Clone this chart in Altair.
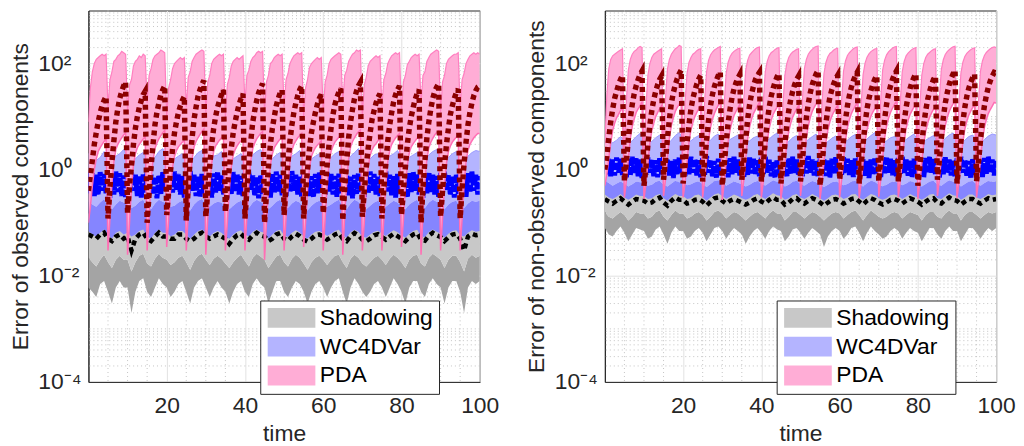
import altair as alt
import numpy as np
import pandas as pd

# time grids (1-unit and half-unit sampling)
T1 = np.arange(0, 101)
T2 = np.arange(0, 201) * 0.5

# ---------------- LEFT PANEL: observed components ----------------
# half-unit series (t = 0, 0.5, ..., 100), one row per assimilation cycle
PDA_HI_OBS = [
    8, 35, 70, 100, 120, 130, 140, 150, 140, 150,
    15, 50, 70, 110, 120, 140, 150, 170, 160, 150,
    12, 40, 50, 90, 110, 120, 140, 130, 150, 140,
    18, 60, 80, 120, 140, 150, 160, 180, 170, 160,
    10, 35, 50, 80, 100, 110, 120, 130, 120, 130,
    15, 55, 70, 110, 130, 150, 160, 170, 180, 170,
    12, 45, 60, 100, 120, 130, 140, 150, 140, 150,
    10, 40, 55, 90, 110, 120, 130, 120, 130, 140,
    18, 60, 75, 110, 130, 140, 160, 170, 160, 170,
    12, 45, 60, 100, 110, 130, 140, 150, 140, 150,
    15, 50, 65, 100, 120, 140, 150, 160, 150, 160,
    10, 35, 50, 85, 100, 110, 120, 130, 120, 130,
    12, 45, 60, 100, 120, 130, 140, 150, 160, 150,
    18, 60, 75, 110, 130, 150, 160, 180, 170, 180,
    10, 40, 55, 90, 110, 120, 130, 140, 130, 140,
    15, 50, 65, 100, 120, 140, 150, 160, 150, 160,
    12, 45, 60, 95, 110, 130, 140, 150, 140, 150,
    18, 60, 70, 110, 130, 150, 160, 170, 180, 170,
    12, 45, 60, 100, 120, 130, 140, 150, 150, 160,
    15, 50, 65, 100, 120, 140, 150, 160, 150, 160,
    150]
PDA_MED_OBS = [
    0.4, 0.8, 1.5, 3, 5, 8, 12, 16, 20, 24,
    0.12, 0.45, 1.4, 3.5, 8, 14, 22, 30, 38, 45,
    0.15, 0.5, 1.2, 3, 6, 10, 15, 20, 26, 30,
    0.1, 0.35, 1.1, 3, 7, 12, 18, 26, 32, 38,
    0.14, 0.4, 1.0, 2.5, 5, 8, 12, 16, 20, 24,
    0.11, 0.45, 1.5, 4, 9, 15, 24, 32, 40, 48,
    0.13, 0.4, 1.2, 3, 6, 10, 15, 20, 26, 32,
    0.16, 0.45, 1.1, 2.5, 5, 8, 12, 17, 22, 27,
    0.12, 0.4, 1.3, 3.5, 8, 13, 20, 28, 35, 42,
    0.1, 0.35, 1.1, 3, 6, 10, 16, 22, 28, 32,
    0.14, 0.5, 1.4, 3.5, 7, 12, 18, 25, 32, 38,
    0.12, 0.4, 1.0, 2.5, 5, 8, 12, 17, 22, 26,
    0.15, 0.45, 1.2, 3, 6, 11, 17, 23, 29, 34,
    0.11, 0.45, 1.4, 4, 8, 14, 22, 30, 38, 44,
    0.13, 0.4, 1.1, 2.6, 5, 9, 13, 18, 23, 27,
    0.12, 0.45, 1.3, 3.5, 7, 12, 19, 26, 32, 38,
    0.14, 0.4, 1.1, 3, 6, 10, 15, 21, 27, 32,
    0.1, 0.45, 1.5, 4, 8, 14, 22, 30, 36, 42,
    0.13, 0.4, 1.2, 3, 6, 11, 16, 22, 28, 33,
    0.12, 0.45, 1.3, 3.3, 7, 12, 18, 25, 31, 36,
    38]
PDA_LO_OBS = [
    0.1, 0.2, 0.5, 1.0, 1.6, 2.2, 2.6, 3, 3.4, 3.8,
    0.03, 0.12, 0.55, 1.4, 2.4, 3, 3.5, 4, 4.5, 5,
    0.025, 0.1, 0.45, 1.2, 2, 2.6, 3, 3.4, 3.8, 4.2,
    0.03, 0.13, 0.6, 1.5, 2.5, 3.2, 3.8, 4.4, 5, 5.5,
    0.035, 0.11, 0.45, 1.1, 1.8, 2.3, 2.7, 3, 3.3, 3.6,
    0.03, 0.14, 0.6, 1.6, 2.7, 3.4, 4, 4.6, 5.2, 5.8,
    0.025, 0.12, 0.5, 1.3, 2.2, 2.8, 3.2, 3.6, 4, 4.4,
    0.03, 0.1, 0.42, 1.1, 1.9, 2.4, 2.8, 3.2, 3.5, 3.8,
    0.03, 0.13, 0.58, 1.5, 2.5, 3.2, 3.8, 4.3, 4.8, 5.2,
    0.02, 0.1, 0.45, 1.2, 2, 2.6, 3, 3.4, 3.8, 4.2,
    0.03, 0.12, 0.52, 1.4, 2.3, 3, 3.5, 4, 4.4, 4.8,
    0.035, 0.1, 0.42, 1.1, 1.8, 2.2, 2.6, 2.9, 3.2, 3.5,
    0.03, 0.12, 0.5, 1.3, 2.2, 2.8, 3.3, 3.7, 4.1, 4.5,
    0.025, 0.14, 0.6, 1.6, 2.7, 3.4, 4, 4.6, 5.2, 5.6,
    0.03, 0.1, 0.44, 1.1, 1.9, 2.4, 2.8, 3.1, 3.5, 3.8,
    0.03, 0.12, 0.52, 1.4, 2.3, 3, 3.5, 4, 4.4, 4.8,
    0.035, 0.11, 0.48, 1.2, 2.1, 2.7, 3.1, 3.5, 3.9, 4.3,
    0.025, 0.14, 0.6, 1.6, 2.6, 3.3, 3.9, 4.5, 5, 5.4,
    0.03, 0.12, 0.5, 1.3, 2.2, 2.8, 3.3, 3.7, 4.1, 4.5,
    0.03, 0.12, 0.52, 1.4, 2.3, 3, 3.5, 4, 4.4, 4.8,
    4.8]
WC_MED_OBS = [
    0.9, 0.36, 0.86, 0.32, 0.8, 0.34, 0.9, 0.4, 0.83, 0.36,
    0.75, 0.3, 0.8, 0.34, 0.92, 0.38, 0.86, 0.32, 0.78, 0.29,
    0.83, 0.35, 0.9, 0.4, 0.8, 0.32, 0.76, 0.3, 0.85, 0.37,
    0.92, 0.38, 0.8, 0.34, 0.74, 0.29, 0.8, 0.35, 0.9, 0.4,
    0.78, 0.32, 0.85, 0.37, 0.92, 0.4, 0.83, 0.34, 0.76, 0.3,
    0.86, 0.36, 0.94, 0.4, 0.8, 0.32, 0.74, 0.3, 0.83, 0.35,
    0.8, 0.34, 0.76, 0.3, 0.85, 0.37, 0.92, 0.4, 0.8, 0.34,
    0.74, 0.29, 0.8, 0.35, 0.9, 0.38, 0.83, 0.34, 0.76, 0.32,
    0.87, 0.37, 0.92, 0.4, 0.78, 0.32, 0.71, 0.29, 0.8, 0.35,
    0.83, 0.34, 0.76, 0.3, 0.85, 0.37, 0.92, 0.39, 0.8, 0.33,
    0.78, 0.32, 0.86, 0.38, 0.94, 0.4, 0.8, 0.34, 0.74, 0.3,
    0.85, 0.36, 0.8, 0.32, 0.75, 0.3, 0.83, 0.36, 0.9, 0.38,
    0.8, 0.34, 0.9, 0.39, 0.83, 0.34, 0.76, 0.31, 0.84, 0.36,
    0.92, 0.4, 0.8, 0.33, 0.74, 0.29, 0.8, 0.35, 0.88, 0.38,
    0.76, 0.31, 0.84, 0.36, 0.92, 0.4, 0.83, 0.34, 0.77, 0.32,
    0.86, 0.37, 0.92, 0.39, 0.8, 0.33, 0.75, 0.3, 0.83, 0.35,
    0.8, 0.34, 0.76, 0.3, 0.86, 0.38, 0.92, 0.4, 0.82, 0.34,
    0.75, 0.3, 0.83, 0.36, 0.9, 0.38, 0.8, 0.34, 0.76, 0.31,
    0.87, 0.38, 0.92, 0.4, 0.79, 0.33, 0.74, 0.3, 0.82, 0.35,
    0.83, 0.35, 0.77, 0.31, 0.86, 0.37, 0.92, 0.4, 0.8, 0.34,
    0.76]
# unit series (t = 0, 1, ..., 100)
WC_HI_OBS = [
    2.0, 1.8, 1.5, 1.7, 2.2, 1.6, 1.4, 1.8, 2.0, 2.4,
    1.7, 1.5, 1.6, 1.9, 2.1, 1.5, 1.4, 1.7, 2.2, 2.5,
    1.8, 1.5, 1.6, 1.8, 2.0, 1.6, 1.3, 1.7, 2.1, 2.3,
    1.7, 1.5, 1.8, 1.9, 2.2, 1.5, 1.4, 1.6, 1.8, 2.0,
    1.6, 1.5, 1.9, 2.2, 2.4, 1.7, 1.4, 1.6, 1.9, 2.1,
    1.6, 1.5, 1.8, 2.0, 2.3, 1.5, 1.3, 1.6, 1.8, 2.0,
    1.7, 1.5, 1.7, 2.0, 2.2, 1.6, 1.4, 1.8, 2.1, 2.5,
    1.5, 1.4, 1.6, 1.9, 2.0, 1.7, 1.5, 1.8, 2.0, 2.3,
    1.6, 1.4, 1.7, 1.9, 2.1, 1.5, 1.5, 1.9, 2.2, 2.4,
    1.7, 1.4, 1.7, 2.0, 2.2, 1.6, 1.5, 1.8, 2.1, 2.3,
    2.2]
WC_Q_OBS = [
    0.25, 0.22, 0.2, 0.24, 0.28, 0.2, 0.18, 0.22, 0.26, 0.24,
    0.22, 0.19, 0.21, 0.25, 0.27, 0.19, 0.18, 0.23, 0.27, 0.25,
    0.23, 0.2, 0.21, 0.24, 0.26, 0.2, 0.17, 0.22, 0.26, 0.28,
    0.22, 0.2, 0.23, 0.25, 0.24, 0.19, 0.18, 0.21, 0.24, 0.26,
    0.21, 0.19, 0.24, 0.27, 0.25, 0.22, 0.18, 0.21, 0.25, 0.27,
    0.2, 0.19, 0.23, 0.26, 0.24, 0.19, 0.17, 0.21, 0.24, 0.26,
    0.22, 0.2, 0.22, 0.25, 0.27, 0.2, 0.18, 0.23, 0.27, 0.25,
    0.19, 0.18, 0.21, 0.24, 0.26, 0.22, 0.2, 0.23, 0.26, 0.24,
    0.2, 0.18, 0.22, 0.25, 0.27, 0.19, 0.19, 0.24, 0.27, 0.25,
    0.22, 0.18, 0.22, 0.25, 0.26, 0.2, 0.19, 0.23, 0.26, 0.25,
    0.26]
WC_LO_OBS = [
    0.07, 0.06, 0.055, 0.065, 0.075, 0.06, 0.05, 0.065, 0.07, 0.06,
    0.065, 0.055, 0.06, 0.07, 0.075, 0.055, 0.05, 0.065, 0.075, 0.065,
    0.065, 0.055, 0.06, 0.07, 0.07, 0.06, 0.05, 0.06, 0.07, 0.075,
    0.065, 0.055, 0.065, 0.07, 0.065, 0.055, 0.05, 0.06, 0.068, 0.072,
    0.06, 0.055, 0.068, 0.075, 0.068, 0.065, 0.05, 0.06, 0.07, 0.074,
    0.058, 0.054, 0.065, 0.072, 0.066, 0.055, 0.05, 0.06, 0.068, 0.07,
    0.064, 0.056, 0.062, 0.07, 0.074, 0.058, 0.052, 0.066, 0.074, 0.068,
    0.055, 0.052, 0.06, 0.068, 0.071, 0.063, 0.056, 0.065, 0.072, 0.066,
    0.058, 0.052, 0.062, 0.07, 0.074, 0.055, 0.054, 0.067, 0.075, 0.068,
    0.063, 0.052, 0.062, 0.07, 0.072, 0.058, 0.055, 0.065, 0.072, 0.068,
    0.07]
SH_MED_OBS = [
    0.06, 0.055, 0.05, 0.06, 0.065, 0.05, 0.045, 0.055, 0.06, 0.05,
    0.055, 0.03, 0.05, 0.06, 0.065, 0.05, 0.045, 0.055, 0.065, 0.055,
    0.055, 0.05, 0.05, 0.06, 0.06, 0.05, 0.045, 0.05, 0.06, 0.065,
    0.055, 0.05, 0.055, 0.06, 0.055, 0.05, 0.04, 0.05, 0.058, 0.062,
    0.052, 0.048, 0.058, 0.065, 0.058, 0.055, 0.045, 0.05, 0.06, 0.064,
    0.05, 0.046, 0.055, 0.062, 0.056, 0.048, 0.044, 0.05, 0.058, 0.06,
    0.055, 0.048, 0.053, 0.06, 0.064, 0.05, 0.045, 0.056, 0.064, 0.058,
    0.048, 0.045, 0.05, 0.058, 0.061, 0.054, 0.048, 0.055, 0.062, 0.056,
    0.05, 0.045, 0.053, 0.06, 0.064, 0.048, 0.046, 0.057, 0.065, 0.058,
    0.054, 0.045, 0.053, 0.06, 0.062, 0.05, 0.03, 0.055, 0.062, 0.058,
    0.06]
SH_Q_OBS = [
    0.022, 0.018, 0.015, 0.02, 0.025, 0.018, 0.014, 0.02, 0.024, 0.02,
    0.02, 0.012, 0.018, 0.024, 0.026, 0.017, 0.015, 0.021, 0.026, 0.022,
    0.02, 0.016, 0.018, 0.022, 0.024, 0.018, 0.013, 0.019, 0.024, 0.026,
    0.02, 0.016, 0.021, 0.024, 0.021, 0.017, 0.014, 0.018, 0.022, 0.025,
    0.019, 0.015, 0.022, 0.026, 0.023, 0.02, 0.014, 0.018, 0.023, 0.025,
    0.018, 0.015, 0.021, 0.025, 0.022, 0.017, 0.013, 0.018, 0.022, 0.024,
    0.02, 0.016, 0.02, 0.024, 0.025, 0.018, 0.014, 0.021, 0.025, 0.022,
    0.017, 0.015, 0.018, 0.022, 0.024, 0.02, 0.016, 0.021, 0.025, 0.022,
    0.018, 0.014, 0.02, 0.024, 0.025, 0.017, 0.015, 0.022, 0.026, 0.023,
    0.02, 0.014, 0.02, 0.024, 0.024, 0.018, 0.012, 0.021, 0.025, 0.022,
    0.024]
SH_LO_OBS = [
    0.006, 0.005, 0.004, 0.007, 0.008, 0.005, 0.003, 0.006, 0.008, 0.006,
    0.006, 0.002, 0.005, 0.008, 0.009, 0.005, 0.004, 0.006, 0.009, 0.007,
    0.006, 0.004, 0.005, 0.007, 0.008, 0.005, 0.003, 0.006, 0.008, 0.009,
    0.006, 0.004, 0.006, 0.008, 0.006, 0.005, 0.003, 0.005, 0.007, 0.008,
    0.005, 0.004, 0.007, 0.009, 0.007, 0.006, 0.003, 0.005, 0.008, 0.008,
    0.005, 0.004, 0.006, 0.008, 0.007, 0.005, 0.003, 0.005, 0.007, 0.008,
    0.006, 0.004, 0.006, 0.008, 0.009, 0.005, 0.003, 0.006, 0.009, 0.007,
    0.005, 0.004, 0.005, 0.007, 0.008, 0.006, 0.004, 0.006, 0.009, 0.007,
    0.005, 0.003, 0.006, 0.008, 0.008, 0.005, 0.004, 0.007, 0.009, 0.007,
    0.006, 0.003, 0.006, 0.008, 0.008, 0.005, 0.002, 0.006, 0.008, 0.007,
    0.008]
SH_TOP_OBS = 0.15

# ---------------- RIGHT PANEL: non-observed components ----------------
PDA_HI_NON = [
    3, 25, 80, 120, 140, 150, 160, 170, 180, 190,
    2, 20, 75, 120, 150, 170, 180, 200, 210, 200,
    1.8, 15, 60, 100, 130, 150, 160, 170, 180, 190,
    2, 22, 80, 120, 150, 170, 190, 200, 220, 210,
    2.2, 18, 65, 105, 130, 150, 160, 175, 185, 190,
    2, 20, 70, 115, 145, 165, 180, 190, 200, 210,
    1.8, 17, 65, 105, 135, 155, 170, 180, 190, 195,
    2, 21, 75, 115, 145, 160, 175, 190, 200, 205,
    2.2, 19, 70, 110, 140, 160, 170, 185, 195, 200,
    2, 16, 60, 100, 130, 150, 165, 175, 185, 190,
    1.9, 22, 80, 120, 150, 170, 185, 200, 210, 215,
    2, 18, 65, 105, 135, 155, 165, 180, 190, 195,
    2.1, 20, 72, 112, 142, 160, 175, 190, 200, 205,
    2, 17, 62, 102, 132, 152, 168, 178, 188, 192,
    1.8, 21, 76, 116, 146, 166, 180, 195, 205, 210,
    2, 19, 70, 110, 140, 158, 172, 185, 195, 200,
    2.2, 16, 60, 100, 130, 150, 162, 175, 185, 190,
    2, 22, 78, 118, 148, 168, 182, 196, 206, 212,
    1.9, 18, 66, 106, 136, 156, 170, 182, 192, 198,
    2, 20, 72, 112, 142, 162, 176, 190, 200, 206,
    200]
PDA_MED_NON = [
    1.0, 1.8, 4, 8, 14, 22, 30, 40, 50, 60,
    0.6, 1.4, 3.8, 9, 17, 27, 38, 50, 62, 72,
    0.5, 1.1, 3, 7, 13, 21, 30, 40, 50, 58,
    0.65, 1.5, 4, 9, 18, 28, 40, 52, 64, 75,
    0.55, 1.2, 3.2, 7, 14, 22, 31, 41, 51, 60,
    0.6, 1.4, 3.6, 8.5, 16, 26, 37, 48, 60, 70,
    0.5, 1.2, 3.2, 7.5, 14, 23, 33, 43, 53, 62,
    0.65, 1.4, 3.8, 9, 17, 27, 38, 50, 60, 68,
    0.6, 1.3, 3.4, 8, 15, 24, 34, 45, 56, 65,
    0.55, 1.2, 3, 7, 13, 21, 30, 40, 50, 58,
    0.6, 1.5, 4, 9.5, 18, 28, 40, 52, 64, 74,
    0.5, 1.2, 3.2, 7.5, 14, 23, 32, 42, 52, 60,
    0.65, 1.4, 3.6, 8.5, 16, 25, 36, 47, 58, 68,
    0.55, 1.2, 3.1, 7.2, 14, 22, 31, 41, 51, 59,
    0.6, 1.5, 4, 9, 17, 27, 38, 50, 62, 72,
    0.6, 1.3, 3.5, 8, 15, 24, 34, 45, 55, 64,
    0.5, 1.1, 3, 7, 13, 21, 30, 40, 50, 58,
    0.65, 1.5, 4, 9.5, 18, 28, 40, 52, 64, 75,
    0.55, 1.3, 3.4, 8, 15, 24, 34, 44, 54, 63,
    0.6, 1.4, 3.6, 8.5, 16, 25, 36, 47, 58, 68,
    66]
PDA_LO_NON = [
    0.5, 0.8, 1.6, 3.2, 5.5, 7.5, 9.5, 11, 13, 15,
    0.3, 0.62, 1.6, 3.8, 6.5, 9, 12, 14, 16, 19,
    0.28, 0.55, 1.3, 3.2, 5.4, 7.6, 10, 12, 14, 16,
    0.32, 0.65, 1.7, 4, 6.8, 9.5, 12.5, 15, 17, 20,
    0.3, 0.56, 1.4, 3.3, 5.6, 7.8, 10, 12, 14, 16.5,
    0.3, 0.63, 1.6, 3.7, 6.3, 9, 11.5, 14, 16.5, 19,
    0.27, 0.56, 1.4, 3.3, 5.7, 8, 10.5, 12.5, 14.5, 17,
    0.32, 0.62, 1.6, 3.8, 6.4, 9, 11.5, 13.5, 16, 18.5,
    0.3, 0.6, 1.5, 3.5, 6, 8.5, 11, 13, 15, 18,
    0.28, 0.54, 1.3, 3.1, 5.3, 7.5, 9.8, 11.8, 13.8, 16,
    0.32, 0.66, 1.7, 4, 6.8, 9.6, 12.5, 15, 17.5, 20.5,
    0.28, 0.56, 1.4, 3.3, 5.6, 8, 10.2, 12.2, 14.2, 16.5,
    0.3, 0.62, 1.55, 3.6, 6.2, 8.8, 11.4, 13.6, 15.8, 18.5,
    0.29, 0.56, 1.4, 3.3, 5.6, 7.9, 10.2, 12.2, 14.2, 16.5,
    0.31, 0.64, 1.65, 3.9, 6.6, 9.3, 12, 14.4, 16.8, 19.5,
    0.3, 0.6, 1.5, 3.5, 6, 8.5, 11, 13, 15.2, 17.8,
    0.28, 0.54, 1.3, 3.1, 5.3, 7.5, 9.8, 11.8, 13.8, 16,
    0.32, 0.66, 1.7, 4, 6.8, 9.6, 12.5, 15, 17.5, 20.5,
    0.29, 0.58, 1.45, 3.4, 5.8, 8.2, 10.6, 12.7, 14.8, 17.2,
    0.3, 0.62, 1.55, 3.6, 6.2, 8.8, 11.4, 13.6, 15.8, 18.5,
    18]
WC_MED_NON = [
    1.7, 0.8, 1.6, 0.75, 1.55, 0.78, 1.7, 0.88, 1.6, 0.8,
    1.5, 0.72, 1.6, 0.78, 1.75, 0.84, 1.65, 0.75, 1.55, 0.7,
    1.6, 0.8, 1.7, 0.88, 1.55, 0.75, 1.5, 0.72, 1.65, 0.82,
    1.75, 0.85, 1.55, 0.78, 1.45, 0.7, 1.55, 0.8, 1.7, 0.88,
    1.52, 0.75, 1.65, 0.82, 1.75, 0.88, 1.6, 0.78, 1.5, 0.72,
    1.65, 0.8, 1.8, 0.88, 1.55, 0.75, 1.45, 0.71, 1.6, 0.8,
    1.55, 0.78, 1.5, 0.72, 1.65, 0.82, 1.75, 0.88, 1.56, 0.78,
    1.46, 0.7, 1.56, 0.8, 1.7, 0.85, 1.6, 0.79, 1.5, 0.75,
    1.68, 0.83, 1.75, 0.88, 1.53, 0.75, 1.42, 0.7, 1.57, 0.8,
    1.6, 0.79, 1.5, 0.72, 1.65, 0.83, 1.76, 0.87, 1.56, 0.77,
    1.53, 0.75, 1.66, 0.85, 1.8, 0.88, 1.56, 0.78, 1.45, 0.72,
    1.64, 0.82, 1.56, 0.76, 1.48, 0.71, 1.6, 0.82, 1.72, 0.86,
    1.56, 0.78, 1.72, 0.87, 1.6, 0.8, 1.5, 0.73, 1.62, 0.82,
    1.75, 0.88, 1.57, 0.77, 1.45, 0.7, 1.56, 0.8, 1.7, 0.85,
    1.5, 0.73, 1.62, 0.82, 1.76, 0.88, 1.6, 0.79, 1.51, 0.75,
    1.66, 0.84, 1.75, 0.87, 1.56, 0.77, 1.47, 0.72, 1.6, 0.8,
    1.57, 0.78, 1.49, 0.72, 1.66, 0.85, 1.75, 0.88, 1.58, 0.79,
    1.47, 0.71, 1.6, 0.82, 1.72, 0.86, 1.56, 0.78, 1.49, 0.73,
    1.68, 0.85, 1.75, 0.88, 1.55, 0.77, 1.45, 0.71, 1.58, 0.8,
    1.6, 0.8, 1.51, 0.73, 1.66, 0.84, 1.76, 0.88, 1.56, 0.78,
    1.5]
WC_HI_NON = [
    4.5, 3.8, 3.2, 3.6, 4.2, 3.6, 3.1, 3.5, 4.2, 4.8,
    3.8, 3.2, 3.4, 4.0, 4.5, 3.4, 3.0, 3.6, 4.4, 5.0,
    3.9, 3.3, 3.5, 4.0, 4.4, 3.5, 3.0, 3.6, 4.3, 4.7,
    3.8, 3.3, 3.7, 4.1, 4.5, 3.4, 3.1, 3.5, 4.0, 4.3,
    3.6, 3.2, 3.8, 4.4, 4.9, 3.8, 3.1, 3.4, 4.0, 4.4,
    3.5, 3.2, 3.7, 4.2, 4.7, 3.4, 3.0, 3.4, 3.9, 4.3,
    3.7, 3.3, 3.6, 4.2, 4.6, 3.5, 3.1, 3.8, 4.4, 5.0,
    3.4, 3.1, 3.5, 4.0, 4.2, 3.8, 3.3, 3.7, 4.2, 4.7,
    3.6, 3.1, 3.6, 4.0, 4.4, 3.4, 3.2, 3.9, 4.5, 4.9,
    3.8, 3.1, 3.6, 4.2, 4.5, 3.6, 3.2, 3.7, 4.3, 4.7,
    4.5]
WC_Q_NON = [
    0.62, 0.56, 0.5, 0.55, 0.6, 0.55, 0.48, 0.53, 0.6, 0.58,
    0.57, 0.5, 0.52, 0.59, 0.62, 0.52, 0.48, 0.55, 0.62, 0.58,
    0.58, 0.51, 0.53, 0.58, 0.6, 0.54, 0.47, 0.54, 0.61, 0.63,
    0.57, 0.5, 0.55, 0.6, 0.57, 0.53, 0.48, 0.52, 0.58, 0.61,
    0.55, 0.5, 0.57, 0.63, 0.59, 0.57, 0.48, 0.52, 0.59, 0.62,
    0.54, 0.5, 0.56, 0.61, 0.58, 0.52, 0.47, 0.52, 0.58, 0.6,
    0.57, 0.51, 0.54, 0.6, 0.62, 0.54, 0.48, 0.56, 0.62, 0.59,
    0.52, 0.49, 0.52, 0.58, 0.6, 0.57, 0.51, 0.55, 0.61, 0.58,
    0.54, 0.48, 0.54, 0.6, 0.62, 0.52, 0.5, 0.57, 0.63, 0.59,
    0.57, 0.48, 0.54, 0.6, 0.61, 0.54, 0.5, 0.56, 0.61, 0.59,
    0.6]
WC_LO_NON = [
    0.34, 0.3, 0.28, 0.31, 0.35, 0.3, 0.27, 0.3, 0.34, 0.32,
    0.32, 0.28, 0.29, 0.33, 0.35, 0.29, 0.26, 0.31, 0.35, 0.32,
    0.32, 0.28, 0.29, 0.33, 0.34, 0.3, 0.26, 0.3, 0.34, 0.36,
    0.32, 0.28, 0.31, 0.34, 0.32, 0.29, 0.27, 0.29, 0.33, 0.35,
    0.31, 0.28, 0.32, 0.36, 0.33, 0.32, 0.27, 0.29, 0.33, 0.35,
    0.3, 0.28, 0.31, 0.35, 0.32, 0.29, 0.26, 0.29, 0.33, 0.34,
    0.32, 0.28, 0.3, 0.34, 0.35, 0.3, 0.27, 0.31, 0.35, 0.33,
    0.29, 0.27, 0.29, 0.33, 0.34, 0.32, 0.28, 0.31, 0.35, 0.32,
    0.3, 0.27, 0.3, 0.34, 0.35, 0.29, 0.28, 0.32, 0.36, 0.33,
    0.32, 0.27, 0.3, 0.34, 0.34, 0.3, 0.28, 0.31, 0.35, 0.33,
    0.34]
SH_MED_NON = [
    0.28, 0.25, 0.23, 0.26, 0.29, 0.25, 0.22, 0.25, 0.28, 0.27,
    0.26, 0.23, 0.24, 0.28, 0.3, 0.24, 0.21, 0.26, 0.3, 0.27,
    0.27, 0.23, 0.24, 0.27, 0.28, 0.25, 0.21, 0.25, 0.29, 0.3,
    0.26, 0.23, 0.26, 0.28, 0.26, 0.24, 0.22, 0.24, 0.27, 0.29,
    0.25, 0.23, 0.27, 0.3, 0.27, 0.27, 0.22, 0.24, 0.28, 0.29,
    0.25, 0.23, 0.26, 0.29, 0.27, 0.24, 0.21, 0.24, 0.27, 0.28,
    0.26, 0.23, 0.25, 0.28, 0.29, 0.25, 0.22, 0.26, 0.29, 0.27,
    0.24, 0.22, 0.24, 0.27, 0.28, 0.26, 0.23, 0.26, 0.29, 0.27,
    0.25, 0.22, 0.25, 0.28, 0.29, 0.24, 0.23, 0.27, 0.3, 0.27,
    0.26, 0.22, 0.25, 0.28, 0.28, 0.25, 0.23, 0.26, 0.29, 0.27,
    0.28]
SH_Q_NON = [
    0.16, 0.13, 0.12, 0.14, 0.16, 0.14, 0.11, 0.13, 0.16, 0.15,
    0.15, 0.12, 0.13, 0.16, 0.17, 0.13, 0.11, 0.14, 0.17, 0.15,
    0.15, 0.12, 0.13, 0.15, 0.16, 0.14, 0.11, 0.13, 0.16, 0.17,
    0.15, 0.12, 0.14, 0.16, 0.15, 0.13, 0.11, 0.13, 0.15, 0.16,
    0.14, 0.12, 0.15, 0.17, 0.15, 0.15, 0.11, 0.13, 0.16, 0.16,
    0.14, 0.12, 0.14, 0.16, 0.15, 0.13, 0.11, 0.13, 0.15, 0.16,
    0.15, 0.12, 0.14, 0.16, 0.17, 0.14, 0.11, 0.14, 0.17, 0.15,
    0.13, 0.12, 0.13, 0.15, 0.16, 0.15, 0.12, 0.14, 0.16, 0.15,
    0.14, 0.11, 0.14, 0.16, 0.16, 0.13, 0.12, 0.15, 0.17, 0.15,
    0.15, 0.11, 0.14, 0.16, 0.16, 0.14, 0.12, 0.14, 0.16, 0.15,
    0.16]
SH_LO_NON = [
    0.08, 0.06, 0.055, 0.07, 0.085, 0.065, 0.045, 0.06, 0.08, 0.075,
    0.07, 0.05, 0.055, 0.075, 0.085, 0.06, 0.04, 0.065, 0.085, 0.07,
    0.07, 0.05, 0.055, 0.07, 0.08, 0.065, 0.045, 0.06, 0.08, 0.085,
    0.07, 0.05, 0.065, 0.08, 0.07, 0.06, 0.04, 0.055, 0.07, 0.08,
    0.065, 0.05, 0.07, 0.085, 0.075, 0.07, 0.045, 0.055, 0.075, 0.08,
    0.065, 0.05, 0.065, 0.08, 0.07, 0.06, 0.035, 0.055, 0.07, 0.08,
    0.07, 0.05, 0.06, 0.08, 0.085, 0.065, 0.045, 0.065, 0.085, 0.07,
    0.06, 0.05, 0.055, 0.07, 0.08, 0.07, 0.05, 0.065, 0.08, 0.07,
    0.065, 0.045, 0.06, 0.08, 0.08, 0.06, 0.05, 0.07, 0.085, 0.07,
    0.07, 0.045, 0.06, 0.08, 0.08, 0.065, 0.05, 0.065, 0.08, 0.07,
    0.08]
SH_TOP_NON = 0.45

METHODS = ["Shadowing", "WC4DVar", "PDA"]
LEGEND_COLORS = ["#c8c8c8", "#b4b4ff", "#ffadd6"]

FONT = "Liberation Sans"
INK = "#262626"
PLOT_W, PLOT_H = 394, 374

# grid line positions (dotted minor grid)
GRID_Y = [k * 10.0 ** e for e in range(-4, 3) for k in range(1, 10)
          if not (k == 1 and e % 2 == 0)]
GRID_X = [v for v in range(5, 100, 5) if v % 20 != 0]

XS = alt.Scale(domain=[0, 100], nice=False, zero=False)
YS = alt.Scale(type="log", domain=[1e-4, 1e3], nice=False)
CS = alt.Scale(domain=METHODS, range=LEGEND_COLORS)

XAXIS = alt.Axis(
    values=[20, 40, 60, 80, 100], title="time", grid=True, gridColor="#e2e2e2",
    ticks=False, domainColor=INK, labelFont=FONT, labelFontSize=23, labelColor=INK,
    labelPadding=13, labelFlush=False, labelOverlap=False,
    titleFont=FONT, titleFontSize=23, titleFontWeight="normal", titleColor=INK,
    titleX=PLOT_W / 2, titleY=59, titleAlign="center", titleBaseline="alphabetic",
)


def yaxis(title):
    return alt.Axis(
        values=[1e-4, 1e-2, 1, 100], title=title, grid=True, gridColor="#e2e2e2",
        ticks=False, domainColor=INK, labelFont=FONT, labelFontSize=23, labelColor=INK,
        labelExpr="datum.value < 0.0002 ? '10⁻⁴' : datum.value < 0.02 ? '10⁻²' : "
                  "datum.value < 2 ? '10⁰' : '10²'",
        labelAlign="left", labelPadding=51, labelBaseline="middle",
        labelFlush=False, labelOverlap=False,
        titleFont=FONT, titleFontSize=23, titleFontWeight="normal", titleColor=INK,
        titleAngle=270, titleX=-61.5, titleY=PLOT_H / 2,
        titleAlign="center", titleBaseline="alphabetic",
    )


# legend swatch: 48 x 20 px rectangle drawn from a 20 px symbol
LEG = alt.Legend(
    title=None, orient="none", legendX=173, legendY=292,
    symbolType="M-2.4,-1H2.4V1H-2.4Z", symbolSize=400, symbolOffset=14,
    symbolStrokeWidth=0, symbolOpacity=1,
    labelFont=FONT, labelFontSize=23, labelColor="black", labelLimit=400,
    labelOffset=17, rowPadding=5, padding=6,
    strokeColor=INK, fillColor="white", cornerRadius=0,
)


def panel(ytitle, sh_lo, sh_q, sh_med, sh_top, wc_lo, wc_q, wc_hi, wc_med,
          pda_lo, pda_med, pda_hi):
    d1 = pd.DataFrame({
        "t": T1, "sh_lo": sh_lo, "sh_q": sh_q, "sh_med": sh_med,
        "sh_top": [sh_top] * len(T1),
        "wc_lo": wc_lo, "wc_q": wc_q, "wc_hi": wc_hi,
    })
    d2 = pd.DataFrame({
        "t": T2, "wc_med": wc_med, "pda_lo": pda_lo, "pda_med": pda_med, "pda_hi": pda_hi,
    })
    gy = pd.DataFrame({"v": GRID_Y})
    gx = pd.DataFrame({"v": GRID_X})
    ya = yaxis(ytitle)

    def X(f):
        return alt.X(f, type="quantitative", scale=XS, axis=XAXIS)

    def Y(f):
        return alt.Y(f, type="quantitative", scale=YS, axis=ya)

    def C():
        return alt.Color("method:N", scale=CS, legend=LEG)

    b1 = alt.Chart(d1)
    b2 = alt.Chart(d2)
    layers = [
        alt.Chart(gy).mark_rule(color="#c4c4c4", strokeDash=[1, 3], strokeWidth=1).encode(y=Y("v")),
        alt.Chart(gx).mark_rule(color="#c4c4c4", strokeDash=[1, 3], strokeWidth=1).encode(x=X("v")),
        # Shadowing band
        b1.mark_area(color="#a4a4a4", clip=True).encode(x=X("t"), y=Y("sh_lo"), y2="sh_q"),
        b1.transform_calculate(method="'Shadowing'").mark_area(clip=True, opacity=1).encode(
            x=X("t"), y=Y("sh_q"), y2="sh_top", color=C()),
        # WC4DVar band
        b1.transform_calculate(method="'WC4DVar'").mark_area(clip=True, opacity=1).encode(
            x=X("t"), y=Y("wc_q"), y2="wc_hi", color=C()),
        b1.mark_area(color="#8585ff", clip=True).encode(x=X("t"), y=Y("wc_lo"), y2="wc_q"),
        b1.mark_line(color="#9a9aff", strokeWidth=1, clip=True).encode(x=X("t"), y=Y("wc_hi")),
        # medians of shadowing and WC4DVar
        b1.mark_line(color="black", strokeWidth=4.5, strokeDash=[5, 4], clip=True).encode(
            x=X("t"), y=Y("sh_med")),
        b2.mark_line(color="#0000ff", strokeWidth=5, strokeDash=[7, 2], clip=True).encode(
            x=X("t"), y=Y("wc_med")),
        # PDA band
        b2.transform_calculate(method="'PDA'").mark_area(clip=True, opacity=1).encode(
            x=X("t"), y=Y("pda_lo"), y2="pda_hi", color=C()),
        b2.mark_line(color="#ff6eb4", strokeWidth=1.5, clip=True).encode(x=X("t"), y=Y("pda_lo")),
        b2.mark_line(color="#ff7fc0", strokeWidth=1.2, clip=True).encode(x=X("t"), y=Y("pda_hi")),
        b2.mark_line(color="#8b0000", strokeWidth=5.5, strokeDash=[5, 4], clip=True).encode(
            x=X("t"), y=Y("pda_med")),
    ]
    return alt.layer(*layers).properties(width=PLOT_W, height=PLOT_H)


left = panel("Error of observed components", SH_LO_OBS, SH_Q_OBS, SH_MED_OBS, SH_TOP_OBS,
             WC_LO_OBS, WC_Q_OBS, WC_HI_OBS, WC_MED_OBS, PDA_LO_OBS, PDA_MED_OBS, PDA_HI_OBS)
right = panel("Error of non-observed components", SH_LO_NON, SH_Q_NON, SH_MED_NON, SH_TOP_NON,
              WC_LO_NON, WC_Q_NON, WC_HI_NON, WC_MED_NON, PDA_LO_NON, PDA_MED_NON, PDA_HI_NON)

chart = (
    alt.hconcat(left, right, spacing=126, bounds="flush")
    .resolve_scale(color="independent")
    .resolve_legend(color="independent")
    .properties(padding={"left": 0, "top": 0, "right": 0, "bottom": 0})
    .configure_view(stroke=INK, strokeWidth=1)
)

chart.save("out.html", embed_options={"renderer": "svg", "actions": False})
